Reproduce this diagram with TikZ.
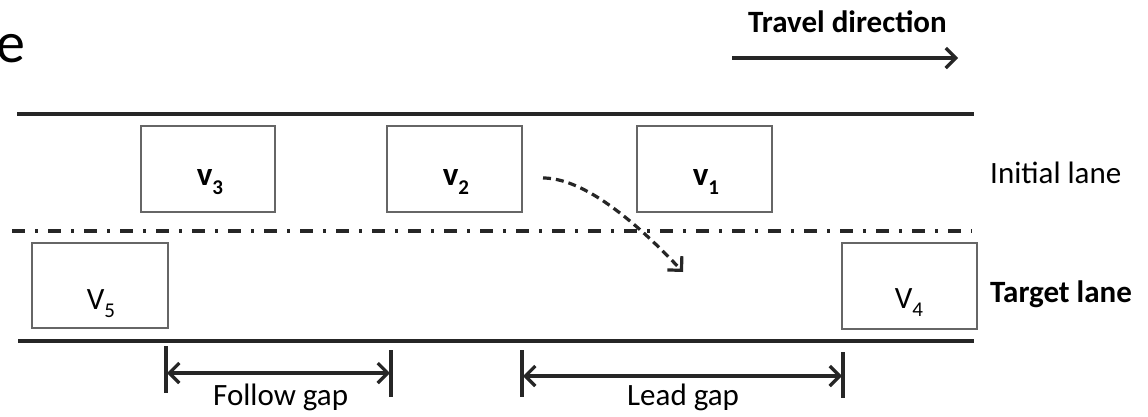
\documentclass[tikz,border=0pt]{standalone}
\usepackage{fontspec}
\setmainfont{Carlito}
\usetikzlibrary{arrows.meta}
\newcommand{\vsub}[1]{\raisebox{-0.28em}{\fontsize{21}{21}\selectfont #1}}
\tikzset{
  lane/.style={line width=3.6pt, black!85},
  car/.style={draw=black!60, line width=2.2pt, rectangle, inner sep=0pt},
  lbl/.style={font=\fontsize{31}{34}\selectfont, inner sep=0pt},
  barb/.style={Straight Barb[length=10pt,width=20pt,line width=3.2pt]},
  gapbar/.style={line width=3.2pt, black!85},
  gaparrow/.style={line width=3.2pt, black!85, {Straight Barb[length=10pt,width=20pt,line width=3.2pt]}-{Straight Barb[length=10pt,width=20pt,line width=3.2pt]}},
}
\begin{document}
\begin{tikzpicture}[x=1pt,y=-1pt]
\useasboundingbox (0,0) rectangle (1148,416);
\clip (0,0) rectangle (1148,416);
\fill[white] (0,0) rectangle (1148,416);

% clipped caption fragment
\node[anchor=base east, inner sep=0pt, font=\fontsize{58}{60}\selectfont] (frag) at (26,62) {ne};

% travel direction
\node[lbl, anchor=base west, font=\fontsize{31}{34}\selectfont\bfseries] (travel) at (748,32) {Travel direction};
\coordinate (ta) at (732,58);
\coordinate (tb) at (958,58);
\draw[line width=3.2pt, black!85, -{Straight Barb[length=10pt,width=20pt,line width=3.2pt]}] (ta) -- (tb);

% lane lines
\coordinate (topL) at (17,114);
\coordinate (topR) at (974,114);
\coordinate (botL) at (18,341);
\coordinate (botR) at (974,341);
\coordinate (midL) at (12,231);
\coordinate (midR) at (972,231);
\draw[lane] (topL) -- (topR);
\draw[lane] (botL) -- (botR);
\draw[lane, dash pattern=on 13pt off 10pt on 3pt off 10pt] (midL) -- (midR);

% vehicles
\node[car, minimum width=134pt, minimum height=86pt] (v3) at (208,169) {};
\node[car, minimum width=135pt, minimum height=86pt] (v2) at (454.5,169) {};
\node[car, minimum width=135pt, minimum height=86pt] (v1) at (704.5,169) {};
\node[car, minimum width=136pt, minimum height=85pt] (v5) at (100,285.5) {};
\node[car, minimum width=135pt, minimum height=86pt] (v4) at (909.5,286) {};

\node[lbl, anchor=base, font=\fontsize{33}{34}\selectfont\bfseries] (t3) at (210,185) {v\vsub{3}};
\node[lbl, anchor=base, font=\fontsize{33}{34}\selectfont\bfseries] (t2) at (456,185) {v\vsub{2}};
\node[lbl, anchor=base, font=\fontsize{33}{34}\selectfont\bfseries] (t1) at (706,185) {v\vsub{1}};
\node[lbl, anchor=base] (t5) at (101,309) {V\vsub{5}};
\node[lbl, anchor=base] (t4) at (909,308) {V\vsub{4}};

% lane labels
\node[lbl, anchor=base west] (init) at (990,183) {Initial lane};
\node[lbl, anchor=base west, font=\fontsize{31}{34}\selectfont\bfseries] (targ) at (990,302) {Target lane};

% lane change path
\coordinate (ps) at (543,178);
\coordinate (pe) at (683,272);
\draw[line width=3.2pt, black!85, dash pattern=on 8pt off 5pt, -{Straight Barb[length=10pt,width=20pt,line width=3.2pt]}]
  (ps) .. controls (575,178) and (620,205) .. (pe);

% follow gap
\coordinate (f1a) at (166,346);
\coordinate (f1b) at (166,393);
\coordinate (f2a) at (391,350);
\coordinate (f2b) at (391,397);
\coordinate (fl) at (167,373);
\coordinate (fr) at (390,373);
\draw[gapbar] (f1a) -- (f1b);
\draw[gapbar] (f2a) -- (f2b);
\draw[gaparrow] (fl) -- (fr);
\node[lbl, anchor=base west] (fgap) at (213,405) {Follow gap};

% lead gap
\coordinate (l1a) at (522,350);
\coordinate (l1b) at (522,397);
\coordinate (l2a) at (843,352);
\coordinate (l2b) at (843,398);
\coordinate (ll) at (523,376);
\coordinate (lr) at (842,376);
\draw[gapbar] (l1a) -- (l1b);
\draw[gapbar] (l2a) -- (l2b);
\draw[gaparrow] (ll) -- (lr);
\node[lbl, anchor=base west] (lgap) at (627,405) {Lead gap};
\end{tikzpicture}
\end{document}
